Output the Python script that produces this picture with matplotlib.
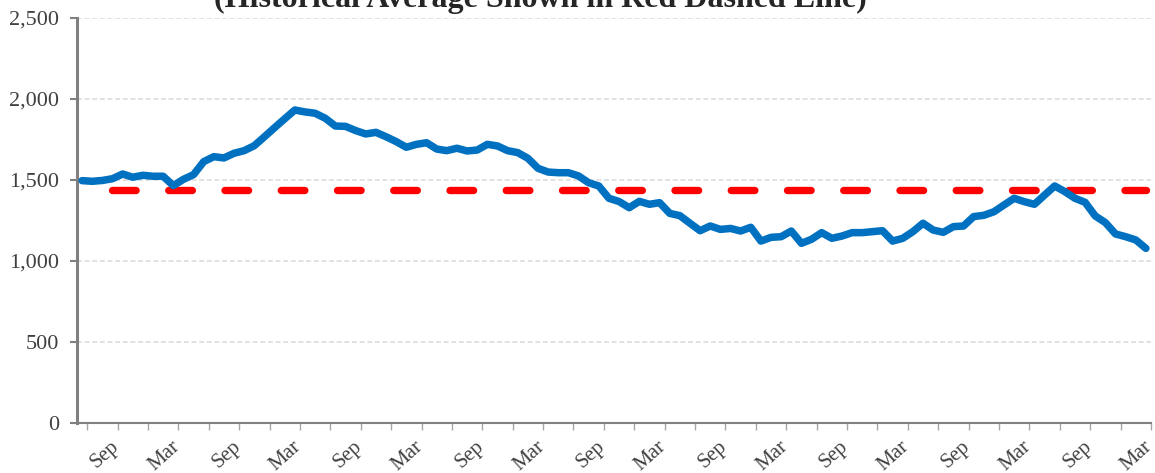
import numpy as np
import matplotlib
matplotlib.use("Agg")
import matplotlib.pyplot as plt
import matplotlib.transforms as mtransforms
from matplotlib.ticker import FuncFormatter

# -----------------------------------------------------------
# Dados (valores mensais)
# -----------------------------------------------------------
valores = [
    1496, 1492, 1497, 1508, 1537, 1517, 1529, 1523, 1523, 1465,
    1504, 1533, 1613, 1644, 1636, 1665, 1681, 1712, 1767, 1823,
    1878, 1932, 1920, 1912, 1881, 1833, 1831, 1805, 1784, 1794,
    1767, 1737, 1702, 1720, 1730, 1691, 1681, 1696, 1679, 1685,
    1720, 1710, 1681, 1669, 1634, 1572, 1549, 1545, 1545, 1525,
    1483, 1463, 1387, 1367, 1329, 1368, 1350, 1360, 1294, 1280,
    1233, 1187, 1216, 1195, 1201, 1185, 1208, 1123, 1146, 1150,
    1185, 1109, 1134, 1175, 1140, 1154, 1175, 1175, 1181, 1187,
    1123, 1140, 1181, 1233, 1191, 1177, 1212, 1216, 1274, 1282,
    1304, 1346, 1387, 1366, 1350, 1407, 1463, 1428, 1387, 1362,
    1278, 1237, 1167, 1150, 1130, 1078,
]
media_historica = 1440
inicio_media = 3  # a série da média começa no 4º mês

rotulos_meses = ["Sep", "Mar"] * 9

# -----------------------------------------------------------
# Gráfico
# -----------------------------------------------------------
plt.rcParams["font.family"] = ["Liberation Serif", "DejaVu Serif"]
plt.rcParams["lines.scale_dashes"] = False

fig = plt.figure(figsize=(11.55, 4.73), dpi=100)
ax = fig.add_axes([0.0667, 0.1057, 0.9298, 0.8563])

x = np.arange(len(valores))
ax.plot(x, valores, color="#0070C0", lw=5.4, solid_joinstyle="round",
        solid_capstyle="round", zorder=3)

x_media = x[inicio_media:]
ax.plot(x_media, [media_historica] * len(x_media), color="#FF0000", lw=5.3,
        dashes=(17, 23.5), dash_capstyle="round", zorder=2)

ax.set_xlim(-0.5, len(valores) - 0.5)
ax.set_ylim(0, 2500)
ax.set_yticks(range(0, 2501, 500))
ax.yaxis.set_major_formatter(FuncFormatter(lambda v, p: f"{v:,.0f}"))
ax.yaxis.grid(True, color="#d9d9d9", lw=1.1, dashes=(3.5, 2))
ax.set_axisbelow(True)

# marcas a cada 3 meses, rótulos a cada 6
marcas = np.arange(0.5, len(valores), 3)
ax.set_xticks(marcas[1::2], rotulos_meses)
ax.set_xticks(marcas[0::2], minor=True)
ax.tick_params(axis="x", which="both", length=5, width=1, color="#a6a6a6",
               labelsize=15, labelcolor="#404040", pad=5)
ax.tick_params(axis="y", length=5, width=1.5, color="#808080",
               labelsize=16, labelcolor="#404040", pad=8)

# rótulos inclinados, terminando na marca (como no Excel)
desloca = mtransforms.ScaledTranslation(-0.075, 0.0, fig.dpi_scale_trans)
for rotulo in ax.get_xticklabels():
    rotulo.set_rotation(42)
    rotulo.set_ha("right")
    rotulo.set_va("top")
    rotulo.set_rotation_mode("anchor")
    rotulo.set_transform(rotulo.get_transform() + desloca)

for lado in ["top", "right"]:
    ax.spines[lado].set_visible(False)
ax.spines["left"].set_color("#808080")
ax.spines["left"].set_linewidth(2.2)
ax.spines["bottom"].set_color("#808080")
ax.spines["bottom"].set_linewidth(1.5)

fig.text(0.468, 0.986, "(Historical Average Shown in Red Dashed Line)",
         ha="center", va="baseline", fontsize=23, fontweight="bold",
         color="#262626")

fig.savefig("out.png", dpi=100)
